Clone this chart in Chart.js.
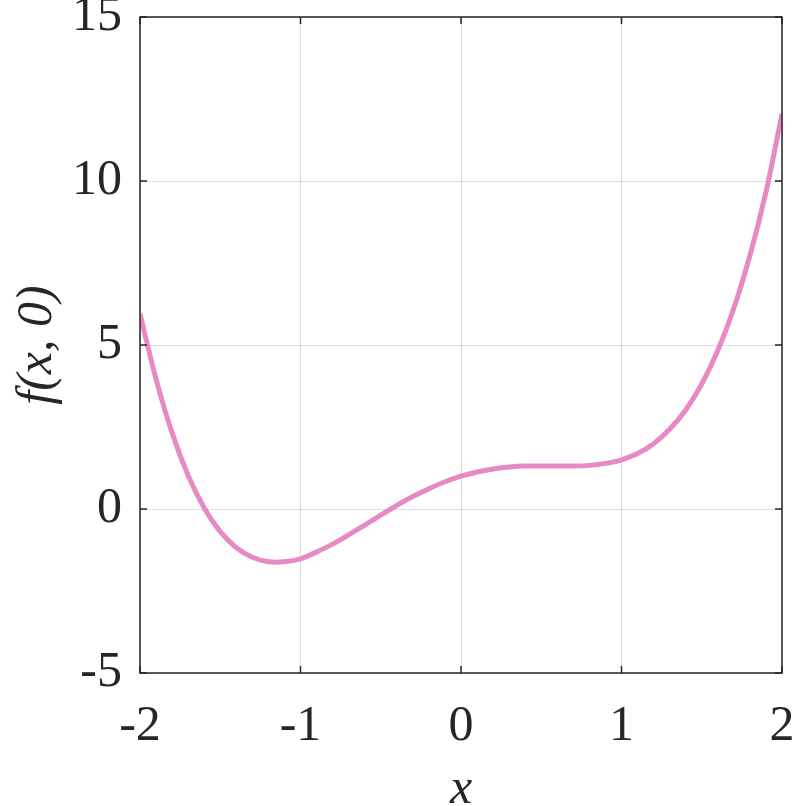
<!DOCTYPE html>
<html>
<head>
    <title>f(x, 0)</title>
    <script src="https://cdn.jsdelivr.net/npm/chart.js"></script>
    <style>
        html, body { margin: 0; padding: 0; background: #fff; }
        #wrap { width: 797px; height: 806px; }
    </style>
</head>
<body>
    <div id="wrap">
        <canvas id="myChart" width="797" height="806"></canvas>
    </div>

    <script>
        // values
        var xValues = [-2.0, -1.9, -1.8, -1.7, -1.6, -1.5, -1.4, -1.3, -1.2, -1.1, -1.0,
                       -0.9, -0.8, -0.7, -0.6, -0.5, -0.4, -0.3, -0.2, -0.1, 0.0,
                       0.1, 0.2, 0.3, 0.4, 0.5, 0.6, 0.7, 0.8, 0.9, 1.0,
                       1.1, 1.2, 1.3, 1.4, 1.5, 1.6, 1.7, 1.8, 1.9, 2.0];
        var fValues = [5.95, 3.96, 2.32, 1.02, 0.03, -0.69, -1.18, -1.47, -1.61, -1.61, -1.52,
                       -1.31, -1.07, -0.79, -0.49, -0.19, 0.11, 0.38, 0.62, 0.83, 1.0,
                       1.13, 1.22, 1.28, 1.31, 1.31, 1.31, 1.31, 1.33, 1.39, 1.5,
                       1.69, 1.99, 2.43, 3.02, 3.81, 4.83, 6.12, 7.72, 9.66, 12.05];
        var xTicks = [-2, -1, 0, 1, 2];
        var yTicks = [-5, 0, 5, 10, 15];

        var points = xValues.map(function (x, i) { return { x: x, y: fValues[i] }; });

        var axisColor = '#262626';
        var serif = "'Liberation Serif', 'Times New Roman', Times, serif";
        var tickFont = { family: serif, size: 50 };
        var titleFont = { family: serif, size: 50, style: 'italic' };

        // MATLAB-like box with inward ticks on all four sides
        var boxPlugin = {
            id: 'boxTicks',
            afterDraw: function (chart) {
                var c = chart.ctx, a = chart.chartArea;
                var xs = chart.scales.x, ys = chart.scales.y;
                var len = 7;
                c.save();
                c.strokeStyle = axisColor;
                c.lineWidth = 1.5;
                c.strokeRect(a.left, a.top, a.right - a.left, a.bottom - a.top);
                c.beginPath();
                xTicks.forEach(function (t) {
                    var px = xs.getPixelForValue(t);
                    c.moveTo(px, a.bottom); c.lineTo(px, a.bottom - len);
                    c.moveTo(px, a.top); c.lineTo(px, a.top + len);
                });
                yTicks.forEach(function (t) {
                    var py = ys.getPixelForValue(t);
                    c.moveTo(a.left, py); c.lineTo(a.left + len, py);
                    c.moveTo(a.right, py); c.lineTo(a.right - len, py);
                });
                c.stroke();
                c.restore();
            }
        };

        function noPad(s) {
            s.paddingLeft = 0; s.paddingRight = 0; s.paddingTop = 0; s.paddingBottom = 0;
        }

        var ctx = document.getElementById('myChart').getContext('2d');
        var myChart = new Chart(ctx, {
            type: 'scatter',
            data: {
                datasets: [{
                    label: 'f(x, 0)',
                    data: points,
                    showLine: true,
                    borderColor: '#e78ac3',
                    backgroundColor: '#e78ac3',
                    borderWidth: 5,
                    pointRadius: 0,
                    tension: 0.3
                }]
            },
            options: {
                responsive: false,
                animation: false,
                layout: { padding: { top: 17, right: 15, left: 0, bottom: 0 } },
                plugins: {
                    legend: { display: false },
                    tooltip: { enabled: false }
                },
                scales: {
                    x: {
                        type: 'linear',
                        min: -2,
                        max: 2,
                        afterBuildTicks: function (s) { s.ticks = xTicks.map(function (v) { return { value: v }; }); },
                        afterFit: function (s) { s.height = 133; noPad(s); },
                        grid: { color: 'rgba(0,0,0,0.13)', lineWidth: 1, drawTicks: false },
                        border: { display: false },
                        ticks: { font: tickFont, color: axisColor, padding: 24, maxRotation: 0 },
                        title: { display: true, text: 'x', font: titleFont, color: axisColor, padding: { top: 0, bottom: -14 } }
                    },
                    y: {
                        min: -5,
                        max: 15,
                        afterBuildTicks: function (s) { s.ticks = yTicks.map(function (v) { return { value: v }; }); },
                        afterFit: function (s) { s.width = 140; noPad(s); },
                        grid: { color: 'rgba(0,0,0,0.13)', lineWidth: 1, drawTicks: false },
                        border: { display: false },
                        ticks: { font: tickFont, color: axisColor, padding: 18 },
                        title: { display: true, text: 'f(x, 0)', font: titleFont, color: axisColor, padding: { top: 8, bottom: 0 } }
                    }
                }
            },
            plugins: [boxPlugin]
        });
    </script>
</body>
</html>
